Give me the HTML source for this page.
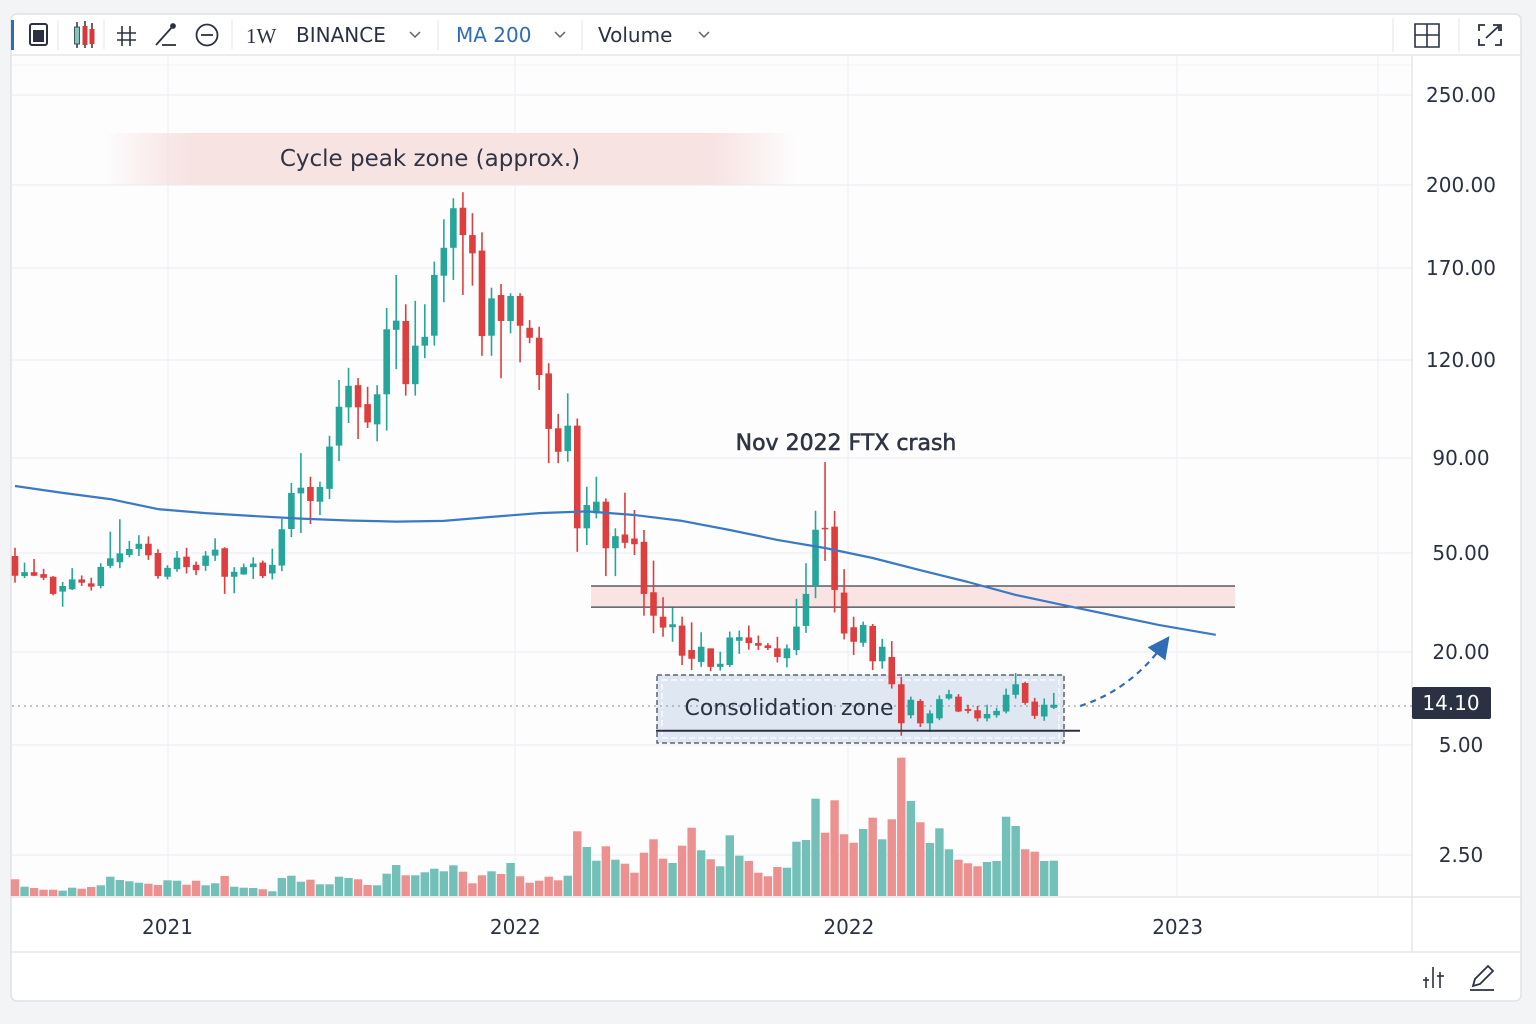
<!DOCTYPE html>
<html><head><meta charset="utf-8">
<style>
html,body{margin:0;padding:0;background:#f3f4f6;}
body{width:1536px;height:1024px;overflow:hidden;font-family:"Liberation Sans","DejaVu Sans",sans-serif;}
svg{display:block}
text{font-family:"DejaVu Sans","Liberation Sans",sans-serif;}
</style></head>
<body>
<svg id="chart" width="1536" height="1024" viewBox="0 0 1536 1024">
  <defs>
    <linearGradient id="peakGrad" x1="0" x2="1" y1="0" y2="0">
      <stop offset="0" stop-color="#f7dede" stop-opacity="0"/>
      <stop offset="0.12" stop-color="#f8e3e3" stop-opacity="1"/>
      <stop offset="0.88" stop-color="#f8e3e3" stop-opacity="1"/>
      <stop offset="1" stop-color="#f7dede" stop-opacity="0"/>
    </linearGradient>
    <marker id="arrowHead" markerWidth="10" markerHeight="10" refX="5" refY="5" orient="auto">
      <path d="M0,0 L10,5 L0,10 Z" fill="#2f6db5"/>
    </marker>
  </defs>
  <rect x="11" y="14" width="1510" height="987" rx="6" fill="#ffffff" stroke="#dfe2e8" stroke-width="1.5"/>
  <rect x="12" y="56" width="1400" height="841" fill="#fdfdfe"/>
  <g id="grid"></g>
  <g>
    <line x1="11" y1="55" x2="1521" y2="55" stroke="#e3e6eb" stroke-width="1.5"/>
    <rect x="11" y="20" width="3" height="30" fill="#2f6db5"/>
    <g>
      <rect x="30" y="24" width="17" height="21" rx="2" fill="none" stroke="#2a3142" stroke-width="2"/>
      <rect x="33" y="30" width="11" height="12" fill="#2a3142"/>
    </g>
    <line x1="58" y1="20" x2="58" y2="50" stroke="#e3e6eb"/>
    <g>
      <line x1="77" y1="22" x2="77" y2="48" stroke="#2a3142" stroke-width="1.5"/><rect x="74.5" y="27" width="5" height="17" fill="#7fc6bd" stroke="#2a3142" stroke-width="0.8"/>
      <line x1="85" y1="21" x2="85" y2="48" stroke="#2a3142" stroke-width="1.5"/><rect x="82.5" y="26" width="5" height="19" fill="#d33a3a"/>
      <line x1="92" y1="23" x2="92" y2="48" stroke="#2a3142" stroke-width="1.5"/><rect x="89.5" y="29" width="5" height="15" fill="#d33a3a"/>
    </g>
    <line x1="104" y1="20" x2="104" y2="50" stroke="#e3e6eb"/>
    <g stroke="#2a3142" stroke-width="1.6" fill="none">
      <line x1="122" y1="26" x2="122" y2="46"/><line x1="130" y1="26" x2="130" y2="46"/>
      <line x1="117" y1="33" x2="136" y2="33"/><line x1="117" y1="40" x2="136" y2="40"/>
    </g>
    <g stroke="#2a3142" stroke-width="1.8" fill="none">
      <line x1="156" y1="45" x2="173" y2="26"/><circle cx="173" cy="26" r="2" fill="#2a3142"/><line x1="162" y1="45" x2="176" y2="45"/>
    </g>
    <g stroke="#2a3142" stroke-width="1.8" fill="none">
      <circle cx="207" cy="35" r="10.5"/><line x1="201" y1="35" x2="213" y2="35"/>
    </g>
    <line x1="232" y1="20" x2="232" y2="50" stroke="#e3e6eb"/>
    <text x="246" y="43" font-size="21" fill="#2a3142" style="font-family:'Liberation Serif',serif">1W</text>
    <text x="296" y="42" font-size="20" fill="#2a3142">BINANCE</text>
    <path d="M410,32 L415,37 L420,32" fill="none" stroke="#5a6272" stroke-width="1.5"/>
    <line x1="438" y1="20" x2="438" y2="50" stroke="#e3e6eb"/>
    <text x="456" y="42" font-size="20" fill="#2f6db5">MA 200</text>
    <path d="M555,32 L560,37 L565,32" fill="none" stroke="#5a6272" stroke-width="1.5"/>
    <line x1="582" y1="20" x2="582" y2="50" stroke="#e3e6eb"/>
    <text x="598" y="42" font-size="20" fill="#2a3142">Volume</text>
    <path d="M699,32 L704,37 L709,32" fill="none" stroke="#5a6272" stroke-width="1.5"/>
    <line x1="1393" y1="18" x2="1393" y2="52" stroke="#e3e6eb"/>
    <g stroke="#2a3142" stroke-width="1.6" fill="none">
      <path d="M1415,24 h24 v23 h-24 z M1427,24 v23 M1415,35 h24"/>
    </g>
    <line x1="1459" y1="18" x2="1459" y2="52" stroke="#e3e6eb"/>
    <g stroke="#2a3142" stroke-width="1.8" fill="none">
      <path d="M1479,31 v-6 h6 M1501,31 v-6 h-6 M1479,39 v6 h6 M1501,39 v6 h-6 M1486,38 L1499,26 M1493,25 h6 v6"/>
    </g>
  </g>
  <line x1="1412" y1="56" x2="1412" y2="952" stroke="#e3e6eb" stroke-width="1.5"/>
  <line x1="11" y1="897" x2="1521" y2="897" stroke="#e3e6eb" stroke-width="1.5"/>
  <line x1="11" y1="952" x2="1521" y2="952" stroke="#e3e6eb" stroke-width="1.5"/>
  <g id="annotationsBack"></g>
  <g id="volumeLayer"></g>
  <g id="candleLayer"></g>
  <g id="annotationsFront"></g>
  <g id="axisLabels"></g>
  <g>
    <g stroke="#2a3142" stroke-width="1.6">
      <line x1="1426" y1="977" x2="1426" y2="988"/><line x1="1433" y1="967" x2="1433" y2="988"/><line x1="1440" y1="972" x2="1440" y2="988"/>
      <line x1="1423" y1="980" x2="1429" y2="980"/><line x1="1437" y1="976" x2="1444" y2="976"/>
    </g>
    <g stroke="#2a3142" stroke-width="1.8" fill="none">
      <path d="M1473,986 L1475,979 L1488,966 L1493,971 L1480,984 Z M1470,990 h24"/>
    </g>
  </g>
</svg>
<script>
// ---- data ----
const tickVals = [250, 200, 170, 120, 90, 50, 20, 5, 2.5];
const tickLabels = ["250.00","200.00","170.00","120.00","90.00","50.00","20.00","5.00","2.50"];
const timeLabels = ["2021","2022","2022","2023"];
const timeLabelIdx = [16, 52.5, 87.5, 122];
const opens = [49.1,43.0,44.2,43.6,42.8,38.3,39.0,42.0,40.8,40.0,46.1,47.2,49.4,51.7,53.9,50.0,42.8,45.1,48.9,46.4,46.1,49.2,52.0,42.8,43.5,45.7,47.1,43.8,46.2,60.1,75.1,77.8,71.6,77.0,93.8,105.5,112.3,106.5,100.3,109.5,136.4,141.2,112.6,127.8,133.2,165.8,177.3,191.8,181.9,176.3,133.2,155.3,141.2,154.8,137.5,132.1,115.9,99.1,92.1,99.9,60.4,66.7,71.6,52.0,57.8,56.1,54.7,38.1,30.7,27.5,28.0,20.6,18.4,21.1,17.6,17.9,23.4,24.4,22.7,22.0,21.1,19.0,20.6,27.9,40.0,60.6,61.1,38.0,27.5,22.8,27.9,18.5,19.2,14.8,9.8,12.1,8.5,9.3,12.5,12.8,10.8,10.6,9.3,9.8,10.4,13.1,15.0,12.0,9.6,11.0];
const highs = [52.2,47.1,48.2,45.2,43.0,41.2,45.4,43.2,42.5,46.9,59.0,64.2,55.1,57.5,57.0,51.6,46.3,50.8,52.2,47.4,50.8,56.2,52.4,45.7,46.8,48.7,47.7,51.8,64.4,79.5,91.5,82.1,80.0,96.8,113.9,117.6,114.5,111.8,112.3,148.3,166.2,150.3,152.1,150.3,172.3,187.6,195.2,197.4,189.8,182.9,159.3,161.3,156.3,156.3,141.7,138.1,119.0,103.5,109.8,102.1,77.9,82.1,73.0,60.4,75.4,68.1,59.7,47.7,36.6,33.5,30.7,29.0,26.0,21.1,20.1,26.2,26.5,28.0,25.0,22.7,24.6,22.3,36.1,46.9,67.8,88.3,67.7,45.1,30.7,29.2,28.5,24.0,23.3,16.0,12.8,12.4,10.6,13.0,13.9,13.2,11.5,11.3,11.5,11.0,14.1,16.6,15.2,12.6,12.5,13.4];
const lows = [41.0,42.4,43.0,41.8,37.2,33.7,38.8,40.0,38.6,39.3,45.4,45.4,48.7,49.1,47.9,42.2,42.0,44.3,43.8,43.3,44.6,47.6,37.6,37.8,43.4,42.1,42.4,42.0,44.5,56.7,58.4,62.2,66.0,72.7,88.7,100.7,95.8,99.2,95.1,98.4,117.2,109.1,109.1,121.0,127.8,151.4,163.5,155.3,160.4,122.3,122.3,114.4,134.5,119.3,129.1,110.8,87.8,87.8,88.4,50.5,53.4,64.6,43.0,43.0,52.0,49.4,31.0,25.7,24.6,23.1,17.9,17.1,17.6,16.9,17.0,17.6,19.7,20.7,20.6,20.6,18.3,17.5,19.5,25.8,36.3,47.6,32.0,23.8,19.5,21.6,17.1,17.3,14.1,6.5,9.3,7.9,7.1,9.0,12.3,10.3,10.1,8.8,8.8,9.4,10.1,12.5,11.5,9.2,8.9,10.8];
const closes = [43.1,44.2,43.1,42.5,37.6,40.0,42.0,41.0,39.8,45.8,48.4,49.9,51.7,53.9,49.3,43.0,45.5,48.6,45.7,44.8,49.2,51.4,42.8,44.3,45.7,46.8,43.0,46.4,60.0,75.3,77.5,71.9,77.8,93.5,105.7,112.1,105.5,100.9,109.5,136.7,141.4,112.6,127.8,132.6,166.2,177.3,191.6,181.9,175.3,133.0,153.5,141.2,154.8,138.6,132.1,115.4,98.9,91.9,99.9,60.4,70.2,71.6,52.0,57.1,54.3,53.7,37.6,31.0,27.4,28.4,19.4,18.9,21.6,17.6,18.1,24.4,24.5,22.7,21.9,21.2,19.2,21.1,27.7,37.6,59.8,60.0,38.8,25.6,23.1,28.2,18.5,21.6,14.8,8.5,12.3,8.5,10.1,12.4,13.2,10.4,10.5,9.3,10.0,10.5,13.1,14.8,11.8,9.7,11.5,11.5];
const volumes = [16.7,9.3,8,6.3,6.3,5.3,8.3,7.3,9,10.7,19.3,16,14.7,13.3,12.3,11,15.7,15.3,11.3,15.3,10.7,12.7,20,9.3,8.3,8,6.7,4.7,18,20.3,14.3,16.3,11.7,11.7,19.3,18,16.7,11,10.7,22.3,31,20.7,20.7,23.7,27.3,24.7,30.7,24.3,12.7,20.7,24.7,22,33,19.7,13.3,15.3,19.3,15.7,20.3,64.7,49,35.3,49.7,36.3,32.3,23.3,43.3,56.7,37.3,33,50.3,68.3,45.7,36.7,29.7,60.7,40.3,35,23.3,19.7,29,28.3,54.3,56,97.3,63.3,95.7,61.7,53.3,67,78.3,56.7,76.7,138.3,95,73.7,53,67.7,46.7,36.3,32.7,29.7,34,35,79.3,70,46.7,44.3,35,35.3];
const maIdx = [0,5,10,15,20,25,30,35,40,45,50,55,60,65,70,75,80,85,90,95,100,105,110,115,120,126];
const maVals = [78.2,75.3,72.7,68.5,66.8,65.6,64.5,63.7,63.2,63.5,65.2,66.8,67.5,66.0,63.5,59.7,55.5,52.1,48.5,44.8,41.2,37.3,34.2,31.2,28.2,25.2];
const resistanceZone = [40.0, 33.6];
const supportLevel = 7.3;
const lastPrice = 14.10;
const lastPriceLabel = "14.10";

// ---- layout ----
const tickYs = [95,185,268,360,458,553,652,745,855];
const X0 = 15, STEP = 9.53, BODY_W = 6.6;
const VOL_BASE = 896, VOL_K = 1.0;
const GREEN = "#26a69a", RED = "#df3e3e";
const NS = "http://www.w3.org/2000/svg";

function xScale(i){ return X0 + i*STEP; }
function yScale(v){
  for(let k=0;k<tickVals.length-1;k++){
    const a=tickVals[k], b=tickVals[k+1];
    if(v<=a && v>=b || k===tickVals.length-2 || (k===0 && v>a)){
      return tickYs[k] + (a-v)/(a-b)*(tickYs[k+1]-tickYs[k]);
    }
  }
  return tickYs[tickYs.length-1];
}
function vScale(v){ return VOL_BASE - v*VOL_K; }
function mk(tag, attrs, parent){
  const e=document.createElementNS(NS, tag);
  for(const k in attrs) e.setAttribute(k, attrs[k]);
  parent.appendChild(e); return e;
}

const grid = document.getElementById('grid');
tickVals.forEach((v,k)=>{
  const y = yScale(v);
  const l = mk('line',{x1:12,x2:1412,y1:y,y2:y,stroke:'#eef0f4','stroke-width':1.2},grid);
  
  
});
mk('line',{x1:12,x2:1412,y1:65,y2:65,stroke:'#f1f2f5'},grid);
[168,515,848,1177,1378].forEach(x=>{
  const l = mk('line',{x1:x,x2:x,y1:56,y2:897,stroke:'#eef0f4','stroke-width':1.2},grid);
  
  
});

const back = document.getElementById('annotationsBack');
const peak = mk('rect',{x:105,y:133,width:690,height:52,fill:'url(#peakGrad)'},back);


const rzTop = yScale(resistanceZone[0]), rzBot = yScale(resistanceZone[1]);
const rz = mk('rect',{x:591,y:rzTop,width:644,height:rzBot-rzTop,fill:'#f9e3e3'},back);


const rzl1 = mk('line',{x1:591,x2:1235,y1:rzTop,y2:rzTop,stroke:'#3a3f4a','stroke-width':1.3},back);


const rzl2 = mk('line',{x1:591,x2:1235,y1:rzBot,y2:rzBot,stroke:'#3a3f4a','stroke-width':1.3},back);


const cz = mk('rect',{x:657,y:675,width:407,height:68,fill:'#dfe7f3',stroke:'#5b6472','stroke-width':1.5,'stroke-dasharray':'5,3'},back);


mk('rect',{x:662,y:680,width:397,height:58,fill:'none',stroke:'#ffffff','stroke-width':1.2,'stroke-dasharray':'6,3'},back);
const pl = mk('line',{x1:12,x2:1412,y1:706,y2:706,stroke:'#9aa1ad','stroke-width':1.2,'stroke-dasharray':'2,4'},back);



const volL = document.getElementById('volumeLayer');
volumes.forEach((v,i)=>{
  const up = closes[i] >= opens[i];
  const r = mk('rect',{x:xScale(i)-4.2,y:vScale(v),width:8.4,height:VOL_BASE-vScale(v),fill:up?'#6cbdb5':'#eb8a8a',opacity:0.95},volL);
  
  
});

const cL = document.getElementById('candleLayer');
opens.forEach((o,i)=>{
  const c = closes[i], up = c>=o, col = up?GREEN:RED, x = xScale(i);
  const g = mk('g',{},cL);
  
  
  mk('line',{x1:x,x2:x,y1:yScale(highs[i]),y2:yScale(lows[i]),stroke:col,'stroke-width':1.6},g);
  const top = yScale(Math.max(o,c)), bot = yScale(Math.min(o,c));
  mk('rect',{x:x-BODY_W/2,y:top,width:BODY_W,height:Math.max(1.5,bot-top),fill:col},g);
});

let d='';
maIdx.forEach((i,k)=>{ d += (k?' L':'M') + xScale(i).toFixed(1)+','+yScale(maVals[k]).toFixed(1); });
const ma = mk('path',{d:d,fill:'none',stroke:'#3a7ac4','stroke-width':2.2,'stroke-linejoin':'round'},document.getElementById('annotationsFront'));



const front = document.getElementById('annotationsFront');
const sl = mk('line',{x1:656,x2:1080,y1:yScale(supportLevel),y2:yScale(supportLevel),stroke:'#2a3142','stroke-width':2},front);


const t1 = mk('text',{x:430,y:166,'font-size':23,fill:'#2f3545','text-anchor':'middle'},front);
t1.textContent='Cycle peak zone (approx.)';


const t2 = mk('text',{x:846,y:450,'font-size':22,fill:'#2f3545','text-anchor':'middle',stroke:'#2f3545','stroke-width':0.6},front);
t2.textContent='Nov 2022 FTX crash';


const t3 = mk('text',{x:789,y:715,'font-size':22,fill:'#2a3142','text-anchor':'middle'},front);
t3.textContent='Consolidation zone';


const ar = mk('path',{d:'M1080,706 Q1130,690 1163,645',fill:'none',stroke:'#2f6db5','stroke-width':2.2,'stroke-dasharray':'6,5','marker-end':'url(#arrowHead)'},front);



const ax = document.getElementById('axisLabels');
tickVals.forEach((v,k)=>{
  const t = mk('text',{x:1461,y:yScale(v)+7,'font-size':20,fill:'#2a3142','text-anchor':'middle'},ax);
  t.textContent = tickLabels[k];
  
  
});
timeLabels.forEach((s,k)=>{
  const t = mk('text',{x:xScale(timeLabelIdx[k]),y:934,'font-size':20,fill:'#2a3142','text-anchor':'middle'},ax);
  t.textContent = s;
  
  
});
const pb = mk('rect',{x:1412,y:687,width:79,height:32,rx:2,fill:'#2a3142'},ax);


const pt = mk('text',{x:1451,y:710,'font-size':20,fill:'#ffffff','text-anchor':'middle'},ax);
pt.textContent = lastPriceLabel;


</script>
</body></html>
